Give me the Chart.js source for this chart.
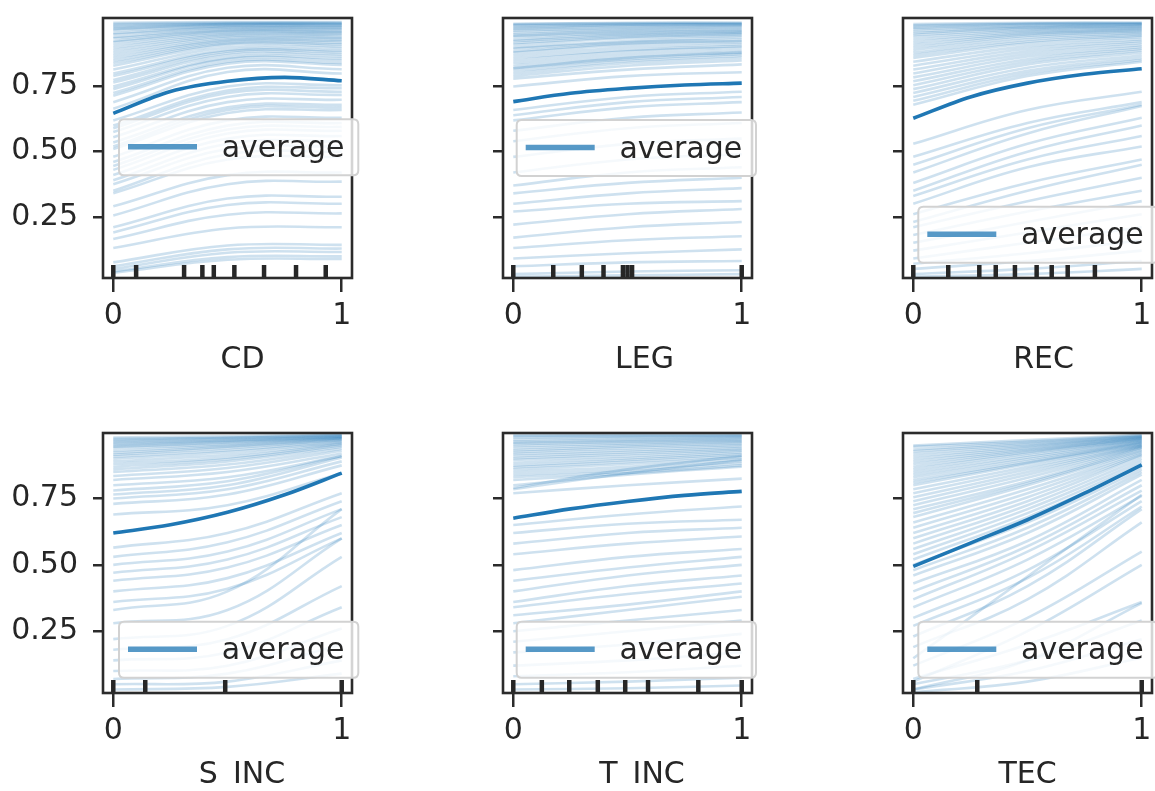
<!DOCTYPE html>
<html><head><meta charset="utf-8">
<script src="https://cdn.jsdelivr.net/npm/chart.js@4.4.0/dist/chart.umd.min.js"></script>
<style>
html,body{margin:0;padding:0;background:#fff;}
#wrap{position:relative;width:1155px;height:791px;overflow:hidden;background:#fff;}
#wrap canvas{position:absolute;}
</style></head><body><div id="wrap"></div>
<script>
// ---------------- data ----------------
const features = ['CD', 'LEG', 'REC', 'S\u2002INC', 'T\u2002INC', 'TEC'];
const iceGrid = [0, 0.5, 1];
const avgGrid = [0, 0.25, 0.5, 0.75, 1];
const xTickValues = [0, 1];
const yTickValues = [0.25, 0.5, 0.75];
const legendLabel = 'average';

const iceCD = [
  [0.995,0.997,0.997],[0.990,0.995,0.995],[0.985,0.992,0.992],[0.980,0.990,0.990],
  [0.975,0.988,0.988],[0.970,0.985,0.984],[0.965,0.982,0.982],[0.955,0.978,0.977],
  [0.950,0.975,0.975],[0.940,0.970,0.970],[0.935,0.966,0.966],[0.925,0.962,0.960],
  [0.920,0.958,0.958],[0.910,0.952,0.952],[0.900,0.948,0.948],[0.890,0.942,0.940],
  [0.880,0.937,0.936],[0.870,0.930,0.930],[0.860,0.926,0.925],[0.850,0.920,0.918],
  [0.840,0.915,0.912],[0.830,0.910,0.905],[0.815,0.900,0.897],[0.800,0.890,0.888],
  [0.790,0.885,0.882],[0.775,0.878,0.874],[0.765,0.870,0.866],[0.750,0.860,0.858],
  [0.740,0.855,0.850],[0.725,0.845,0.840],[0.715,0.838,0.833],[0.690,0.822,0.816],
  [0.665,0.806,0.800],
  [0.620,0.750,0.755],[0.600,0.735,0.744],[0.590,0.725,0.730],[0.575,0.710,0.718],
  [0.555,0.690,0.699],[0.535,0.670,0.680],[0.520,0.660,0.670],[0.510,0.648,0.660],
  [0.480,0.620,0.630],[0.460,0.600,0.610],[0.445,0.585,0.595],[0.430,0.570,0.580],
  [0.410,0.550,0.560],[0.390,0.530,0.540],[0.375,0.510,0.520],[0.350,0.490,0.500],
  [0.340,0.470,0.480],[0.290,0.410,0.420],[0.255,0.375,0.385],[0.210,0.320,0.327],
  [0.190,0.295,0.300],[0.165,0.258,0.263],[0.130,0.205,0.210],[0.075,0.140,0.142],
  [0.060,0.125,0.128],[0.050,0.112,0.115],[0.040,0.095,0.098],[0.035,0.085,0.088]
];
const avgCD = [0.647, 0.731, 0.770, 0.785, 0.772];
const rugCD = [0, 0.10, 0.31, 0.39, 0.44, 0.53, 0.66, 0.80, 0.93];

const iceLEG = [
  [0.990,0.995,0.995],[0.990,0.993,0.994],[0.985,0.990,0.990],[0.980,0.987,0.990],
  [0.975,0.985,0.987],[0.970,0.980,0.984],[0.965,0.975,0.980],[0.958,0.970,0.976],
  [0.950,0.965,0.970],[0.945,0.960,0.966],[0.940,0.955,0.962],[0.930,0.950,0.958],
  [0.925,0.945,0.955],[0.917,0.940,0.950],[0.910,0.935,0.945],[0.900,0.925,0.938],
  [0.895,0.920,0.930],[0.885,0.915,0.925],[0.880,0.910,0.920],[0.870,0.900,0.912],
  [0.860,0.890,0.905],[0.850,0.885,0.900],[0.840,0.875,0.890],[0.830,0.865,0.882],
  [0.820,0.855,0.875],[0.820,0.860,0.880],[0.810,0.848,0.868],[0.800,0.840,0.860],
  [0.790,0.830,0.850],[0.780,0.815,0.835],[0.750,0.790,0.805],
  [0.660,0.710,0.730],[0.640,0.690,0.710],[0.620,0.670,0.690],[0.580,0.630,0.650],
  [0.540,0.590,0.610],[0.480,0.530,0.550],[0.420,0.470,0.490],[0.370,0.420,0.440],
  [0.340,0.380,0.400],[0.300,0.340,0.360],[0.270,0.300,0.310],[0.220,0.260,0.280],
  [0.170,0.210,0.230],[0.130,0.160,0.175],[0.090,0.110,0.125],[0.060,0.075,0.080],
  [0.030,0.040,0.045],[0.020,0.025,0.030]
];
const avgLEG = [0.692, 0.724, 0.743, 0.756, 0.763];
const rugLEG = [0, 0.175, 0.30, 0.395, 0.48, 0.50, 0.52, 1];

const iceREC = [
  [0.990,0.995,0.995],[0.985,0.992,0.994],[0.980,0.990,0.992],[0.975,0.986,0.990],
  [0.970,0.982,0.988],[0.962,0.978,0.985],[0.955,0.975,0.982],[0.948,0.970,0.979],
  [0.940,0.965,0.975],[0.930,0.960,0.972],[0.920,0.955,0.968],[0.910,0.950,0.964],
  [0.900,0.945,0.960],[0.890,0.938,0.955],[0.880,0.930,0.950],[0.870,0.922,0.945],
  [0.860,0.915,0.940],[0.845,0.905,0.932],[0.830,0.895,0.925],[0.815,0.885,0.918],
  [0.800,0.875,0.910],[0.785,0.865,0.902],[0.770,0.855,0.895],[0.755,0.845,0.888],
  [0.740,0.835,0.880],[0.725,0.822,0.870],[0.710,0.810,0.860],[0.695,0.800,0.852],
  [0.680,0.790,0.845],
  [0.530,0.660,0.730],[0.480,0.610,0.690],[0.450,0.590,0.680],[0.420,0.570,0.675],
  [0.380,0.530,0.630],[0.350,0.500,0.600],[0.330,0.470,0.560],[0.300,0.440,0.520],
  [0.260,0.380,0.470],[0.230,0.350,0.450],[0.210,0.310,0.400],[0.180,0.270,0.350],
  [0.150,0.230,0.310],[0.120,0.190,0.260],[0.090,0.150,0.210],[0.070,0.110,0.160],
  [0.050,0.080,0.120],[0.030,0.050,0.080],[0.020,0.030,0.050]
];
const avgREC = [0.628, 0.710, 0.763, 0.797, 0.818];
const rugREC = [0, 0.153, 0.289, 0.361, 0.445, 0.54, 0.606, 0.676, 0.795];

const iceSINC = [
  [0.980,0.985,0.992],[0.975,0.980,0.990],[0.970,0.978,0.988],[0.965,0.975,0.985],
  [0.960,0.970,0.984],[0.955,0.968,0.982],[0.950,0.964,0.980],[0.945,0.960,0.978],
  [0.940,0.955,0.977],[0.930,0.950,0.975],[0.922,0.945,0.972],[0.915,0.940,0.970],
  [0.908,0.932,0.966],[0.900,0.925,0.962],[0.890,0.915,0.958],[0.880,0.905,0.955],
  [0.870,0.898,0.950],[0.860,0.890,0.945],[0.850,0.878,0.938],[0.835,0.865,0.930],
  [0.820,0.850,0.920],[0.800,0.830,0.910],[0.780,0.815,0.910],[0.765,0.800,0.905],
  [0.750,0.785,0.890],[0.730,0.765,0.875],[0.690,0.725,0.845],
  [0.565,0.620,0.770],[0.530,0.585,0.740],[0.500,0.550,0.710],[0.470,0.520,0.680],
  [0.440,0.490,0.650],[0.400,0.450,0.620],[0.360,0.410,0.600],[0.330,0.400,0.710],
  [0.280,0.330,0.600],[0.220,0.270,0.530],[0.180,0.220,0.420],[0.140,0.170,0.340],
  [0.100,0.120,0.260],[0.070,0.090,0.200],[0.050,0.060,0.140],[0.030,0.040,0.090]
];
const avgSINC = [0.620, 0.651, 0.698, 0.764, 0.846];
const rugSINC = [0, 0.14, 0.49, 1];

const iceTINC = [
  [0.990,0.990,0.990],[0.985,0.987,0.988],[0.980,0.983,0.985],[0.972,0.978,0.982],
  [0.965,0.972,0.978],[0.960,0.968,0.974],[0.955,0.963,0.970],[0.948,0.958,0.966],
  [0.940,0.952,0.962],[0.932,0.946,0.957],[0.925,0.940,0.952],[0.918,0.932,0.946],
  [0.910,0.925,0.940],[0.902,0.918,0.935],[0.895,0.910,0.930],[0.885,0.902,0.924],
  [0.875,0.895,0.918],[0.868,0.888,0.912],[0.860,0.880,0.905],[0.850,0.870,0.898],
  [0.840,0.860,0.890],[0.830,0.852,0.882],[0.820,0.845,0.875],[0.800,0.840,0.870],
  [0.790,0.860,0.910],[0.785,0.845,0.895],[0.770,0.800,0.825],
  [0.650,0.690,0.720],[0.620,0.655,0.670],[0.580,0.620,0.640],[0.540,0.580,0.607],
  [0.480,0.530,0.560],[0.440,0.490,0.530],[0.400,0.460,0.500],[0.360,0.420,0.460],
  [0.340,0.390,0.430],[0.310,0.350,0.400],[0.280,0.330,0.380],[0.250,0.290,0.330],
  [0.210,0.250,0.290],[0.170,0.200,0.240],[0.120,0.140,0.170],[0.080,0.095,0.120],
  [0.050,0.060,0.075],[0.030,0.035,0.045]
];
const avgTINC = [0.676, 0.711, 0.739, 0.762, 0.777];
const rugTINC = [0, 0.125, 0.245, 0.37, 0.49, 0.59, 0.81, 1];

const iceTEC = [
  [0.950,0.970,0.990],[0.945,0.965,0.988],[0.935,0.960,0.985],[0.928,0.955,0.984],
  [0.920,0.950,0.982],[0.910,0.945,0.980],[0.900,0.940,0.978],[0.890,0.935,0.976],
  [0.880,0.930,0.975],[0.870,0.925,0.972],[0.860,0.920,0.970],[0.850,0.912,0.968],
  [0.840,0.905,0.965],[0.830,0.898,0.962],[0.820,0.890,0.960],[0.810,0.885,0.958],
  [0.800,0.880,0.955],[0.785,0.870,0.952],[0.770,0.860,0.950],[0.755,0.850,0.948],
  [0.740,0.840,0.945],[0.725,0.828,0.942],[0.710,0.815,0.940],[0.695,0.808,0.935],
  [0.680,0.800,0.930],[0.660,0.785,0.925],[0.640,0.770,0.920],[0.620,0.755,0.915],
  [0.600,0.740,0.910],[0.580,0.725,0.900],[0.560,0.710,0.890],[0.540,0.695,0.880],
  [0.520,0.680,0.870],[0.500,0.660,0.860],[0.480,0.640,0.850],[0.460,0.620,0.840],
  [0.430,0.590,0.820],[0.400,0.570,0.800],[0.370,0.550,0.780],[0.340,0.520,0.760],
  [0.300,0.480,0.740],[0.270,0.450,0.720],[0.230,0.420,0.710],[0.190,0.370,0.660],
  [0.148,0.456,0.764],[0.120,0.300,0.550],[0.060,0.250,0.500],[0.070,0.200,0.360],
  [0.030,0.140,0.356],[0.050,0.140,0.290],[0.030,0.100,0.220],[0.020,0.060,0.150]
];
const avgTEC = [0.494, 0.582, 0.670, 0.770, 0.877];
const rugTEC = [0, 0.28, 1];

const iceSets = [iceCD, iceLEG, iceREC, iceSINC, iceTINC, iceTEC];
const avgSets = [avgCD, avgLEG, avgREC, avgSINC, avgTINC, avgTEC];
const rugSets = [rugCD, rugLEG, rugREC, rugSINC, rugTINC, rugTEC];

// ---------------- layout ----------------
const cols = [
  {cx:0, cw:390, left:103, right:352},
  {cx:400, cw:390, left:503, right:752},
  {cx:800, cw:355, left:903, right:1152}
];
const rows = [
  {cy:0, ch:395, top:18, bottom:278, ymin:0.015, ymax:1.013, titleY:368},
  {cy:400, ch:391, top:433, bottom:693, ymin:0.017, ymax:0.997, titleY:783}
];
const titleCenters = [242.5, 644.5, 1043.5, 242, 642, 1027.5];
const legendBoxes = [[119,119.3],[516.7,120],[918.3,206.7],[119,621.7],[516.7,621.7],[918.3,621.7]];
const FONT = '"DejaVu Sans", sans-serif';
const INK = '#262626';

function roundRectPath(ctx, x, y, w, h, r) {
  ctx.beginPath();
  ctx.moveTo(x + r, y);
  ctx.lineTo(x + w - r, y);
  ctx.quadraticCurveTo(x + w, y, x + w, y + r);
  ctx.lineTo(x + w, y + h - r);
  ctx.quadraticCurveTo(x + w, y + h, x + w - r, y + h);
  ctx.lineTo(x + r, y + h);
  ctx.quadraticCurveTo(x, y + h, x, y + h - r);
  ctx.lineTo(x, y + r);
  ctx.quadraticCurveTo(x, y, x + r, y);
  ctx.closePath();
}
function zeroPad(s) { s.paddingTop = 0; s.paddingBottom = 0; s.paddingLeft = 0; s.paddingRight = 0; }

const wrap = document.getElementById('wrap');

for (let i = 0; i < 6; i++) {
  const r = rows[Math.floor(i / 3)], c = cols[i % 3];
  const canvas = document.createElement('canvas');
  canvas.width = c.cw; canvas.height = r.ch;
  canvas.style.left = c.cx + 'px'; canvas.style.top = r.cy + 'px';
  canvas.style.width = c.cw + 'px'; canvas.style.height = r.ch + 'px';
  wrap.appendChild(canvas);

  const datasets = [{
    label: legendLabel,
    data: avgSets[i].map((y, k) => ({x: avgGrid[k], y})),
    borderColor: '#1f77b4', borderWidth: 3.6, pointRadius: 0,
    tension: 0.4, cubicInterpolationMode: 'monotone', fill: false, order: 0
  }];
  iceSets[i].forEach(line => datasets.push({
    label: 'ice',
    data: line.map((y, k) => ({x: iceGrid[k], y})),
    borderColor: 'rgba(31,119,180,0.22)', borderWidth: 2.6, pointRadius: 0,
    tension: 0.4, fill: false, order: 1
  }));

  const showY = (i % 3) === 0;
  const decor = {
    id: 'decor' + i,
    afterDatasetsDraw(chart) {
      const ctx = chart.ctx, a = chart.chartArea, xs = chart.scales.x, ys = chart.scales.y;
      ctx.save();
      // rug (deciles)
      const rugTop = ys.getPixelForValue(ys.min + 0.05 * (ys.max - ys.min));
      ctx.strokeStyle = INK; ctx.lineWidth = 4.5;
      rugSets[i].forEach(v => {
        const px = xs.getPixelForValue(v);
        ctx.beginPath(); ctx.moveTo(px, a.bottom); ctx.lineTo(px, rugTop); ctx.stroke();
      });
      // frame
      ctx.strokeStyle = '#2b2b2b'; ctx.lineWidth = 2.6;
      ctx.strokeRect(a.left, a.top, a.right - a.left, a.bottom - a.top);
      // legend
      const lx = legendBoxes[i][0] - c.cx, ly = legendBoxes[i][1] - r.cy;
      roundRectPath(ctx, lx, ly, 239.3, 56, 5);
      ctx.fillStyle = 'rgba(255,255,255,0.8)'; ctx.fill();
      ctx.strokeStyle = '#d2d2d2'; ctx.lineWidth = 2; ctx.stroke();
      ctx.strokeStyle = 'rgba(31,119,180,0.75)'; ctx.lineWidth = 5.5; ctx.lineCap = 'butt';
      ctx.beginPath(); ctx.moveTo(lx + 9, ly + 27.5); ctx.lineTo(lx + 78, ly + 27.5); ctx.stroke();
      ctx.fillStyle = INK; ctx.font = '30px ' + FONT; ctx.textAlign = 'left'; ctx.textBaseline = 'alphabetic';
      ctx.fillText(legendLabel, lx + 102.7, ly + 37.5);
      // x-axis title
      ctx.textAlign = 'center';
      ctx.fillText(features[i], titleCenters[i] - c.cx, r.titleY - r.cy);
      ctx.restore();
    }
  };

  new Chart(canvas, {
    type: 'line',
    data: {datasets},
    plugins: [decor],
    options: {
      responsive: false, animation: false, devicePixelRatio: 1, events: [],
      layout: {autoPadding: false, padding: {left: 0, right: c.cx + c.cw - c.right, top: r.top - r.cy, bottom: 0}},
      plugins: {legend: {display: false}, tooltip: {enabled: false}},
      scales: {
        x: {
          type: 'linear', min: -0.045, max: 1.045,
          afterBuildTicks: s => { s.ticks = xTickValues.map(v => ({value: v})); },
          afterFit: s => { s.height = r.cy + r.ch - r.bottom; zeroPad(s); },
          grid: {drawOnChartArea: false, drawTicks: true, tickLength: 14, color: '#2b2b2b', lineWidth: 2.5},
          border: {display: false},
          ticks: {color: INK, font: {family: FONT, size: 30}, padding: 6, maxRotation: 0, autoSkip: false,
                  callback: v => String(v)}
        },
        y: {
          type: 'linear', min: r.ymin, max: r.ymax,
          afterBuildTicks: s => { s.ticks = yTickValues.map(v => ({value: v})); },
          afterFit: s => { s.width = c.left - c.cx; zeroPad(s); },
          grid: {drawOnChartArea: false, drawTicks: true, tickLength: 10, color: '#2b2b2b', lineWidth: 2.5},
          border: {display: false},
          ticks: {color: INK, font: {family: FONT, size: 30}, padding: 15, autoSkip: false,
                  callback: v => showY ? Number(v).toFixed(2) : ''}
        }
      }
    }
  });
}
</script></body></html>
